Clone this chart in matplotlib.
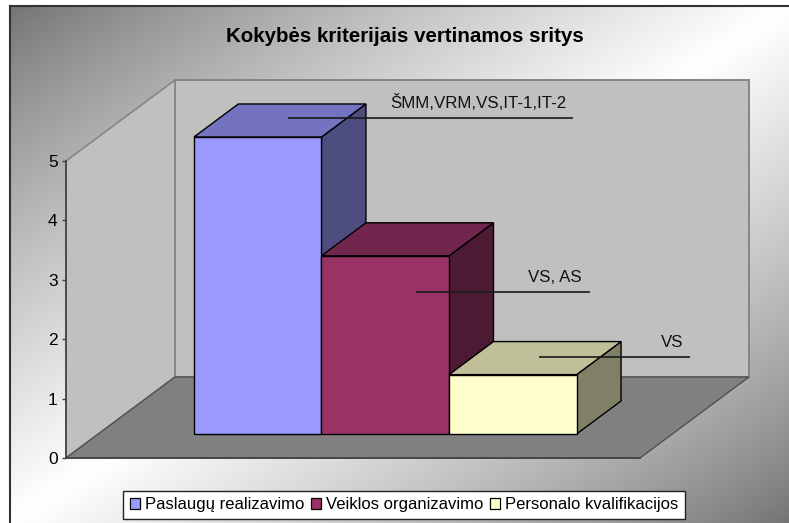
import numpy as np
import matplotlib
matplotlib.use('Agg')
import matplotlib.pyplot as plt
from matplotlib.patches import Polygon, Patch
from matplotlib.colors import to_rgb

plt.rcParams['font.family'] = ['Liberation Sans', 'DejaVu Sans']

title = 'Kokybės kriterijais vertinamos sritys'
series = ['Paslaugų realizavimo', 'Veiklos organizavimo', 'Personalo kvalifikacijos']
values = [5, 3, 1]
labels = ['ŠMM,VRM,VS,IT-1,IT-2', 'VS, AS', 'VS']
colors = ['#9999FF', '#993366', '#FFFFCC']
yticks = [0, 1, 2, 3, 4, 5]

# leader lines, in pixels relative to the middle of the bar's front top edge
leader_start = [(30, 19), (31, -36), (26, 18)]
leader_len = [285, 174, 151]
label_x = [191, 139, 133]   # text centre from line start
W, H = 789, 523

# 3d look: floor depth in data units
DX = 109 / 127.6
DY = 81 / 59.4
FRONT, BACK = 0.296, 0.704
GAP = 0.75
XMAX = 4.5


def proj(x, v, d):
    return (x + d * DX, v + d * DY)


def shade(c, f):
    return tuple(f * a for a in to_rgb(c))


fig = plt.figure(figsize=(W / 100, H / 100), dpi=100, facecolor='white')

# gradient background
bg = fig.add_axes([9.5 / W, 0, 1 - 9.5 / W, 1 - 5.5 / H])
xx, yy = np.meshgrid(np.linspace(0, 1, 400), np.linspace(0, 1, 300))
t = (xx + yy) / 2
g = 0.45 + 0.55 * (1 - np.abs(t - 0.5) * 2) ** 0.85
bg.imshow(g, cmap='gray', vmin=0, vmax=1, aspect='auto', extent=[0, 1, 1, 0])
bg.set_xticks([])
bg.set_yticks([])
for s in ['right', 'bottom']:
    bg.spines[s].set_visible(False)
for s in ['left', 'top']:
    bg.spines[s].set_linewidth(1.5)
    bg.spines[s].set_color('#333333')

ax = fig.add_axes([66 / W, (H - 458) / H, 574 / W, 297 / H])
ax.patch.set_visible(False)
ax.set_xlim(0, XMAX)
ax.set_ylim(0, 5)
ax.set_xticks([])
ax.set_yticks(yticks)
ax.tick_params(axis='y', length=3, width=1, color='#404040', labelsize=12.5, pad=3)
for s in ['top', 'right']:
    ax.spines[s].set_visible(False)
for s in ['left', 'bottom']:
    ax.spines[s].set_color('#404040')
    ax.spines[s].set_linewidth(1.2)
    ax.spines[s].set_zorder(3)


def face(pts, fc, ec='black', lw=1.0, z=5):
    ax.add_patch(Polygon(pts, closed=True, facecolor=fc, edgecolor=ec, linewidth=lw,
                         joinstyle='miter', clip_on=False, zorder=z))


# walls and floor
face([proj(0, 0, 1), proj(XMAX, 0, 1), proj(XMAX, 5, 1), proj(0, 5, 1)], '#C0C0C0', '#858585', 1.4, 1)
face([proj(0, 0, 0), proj(0, 0, 1), proj(0, 5, 1), proj(0, 5, 0)], '#C0C0C0', '#858585', 1.2, 1)
face([proj(0, 0, 0), proj(XMAX, 0, 0), proj(XMAX, 0, 1), proj(0, 0, 1)], '#808080', '#505050', 1.0, 2)

# bars, back to front is left to right here
for i, (v, c) in enumerate(zip(values, colors)):
    x0, x1 = GAP + i, GAP + i + 1
    z = 5 + i
    face([proj(x1, 0, FRONT), proj(x1, 0, BACK), proj(x1, v, BACK), proj(x1, v, FRONT)], shade(c, 0.5), z=z)
    face([proj(x0, v, FRONT), proj(x1, v, FRONT), proj(x1, v, BACK), proj(x0, v, BACK)], shade(c, 0.75), z=z)
    face([proj(x0, 0, FRONT), proj(x1, 0, FRONT), proj(x1, v, FRONT), proj(x0, v, FRONT)], c, z=z)

# data labels with their leader lines
ux = 574 / XMAX
uy = 297 / 5
for i, (v, lab) in enumerate(zip(values, labels)):
    cx, cy = proj(GAP + i + 0.5, v, FRONT)
    sx = cx + leader_start[i][0] / ux
    sy = cy + leader_start[i][1] / uy
    ax.plot([sx, sx + leader_len[i] / ux], [sy, sy], color='#1a1a1a', lw=1.2,
            clip_on=False, zorder=12, solid_capstyle='butt')
    ax.text(sx + label_x[i] / ux, sy + 7 / uy, lab, ha='center', va='bottom', fontsize=12.2,
            color='#111111', zorder=13)

fig.text(405 / W, 1 - 37 / H, title, ha='center', va='center', fontsize=14.8, fontweight='bold')

handles = [Patch(facecolor=c, edgecolor='black', linewidth=0.9, label=s) for c, s in zip(colors, series)]
leg = fig.legend(handles=handles, ncol=3, loc='center', bbox_to_anchor=(404 / W, 1 - 505 / H), fontsize=12,
                 fancybox=False, framealpha=1, facecolor='white', edgecolor='#222222',
                 handlelength=0.6, handleheight=0.6, handletextpad=0.3, columnspacing=0.4,
                 borderpad=0.4, borderaxespad=0)
leg.get_frame().set_linewidth(1.0)

fig.savefig('out.png', dpi=100)
